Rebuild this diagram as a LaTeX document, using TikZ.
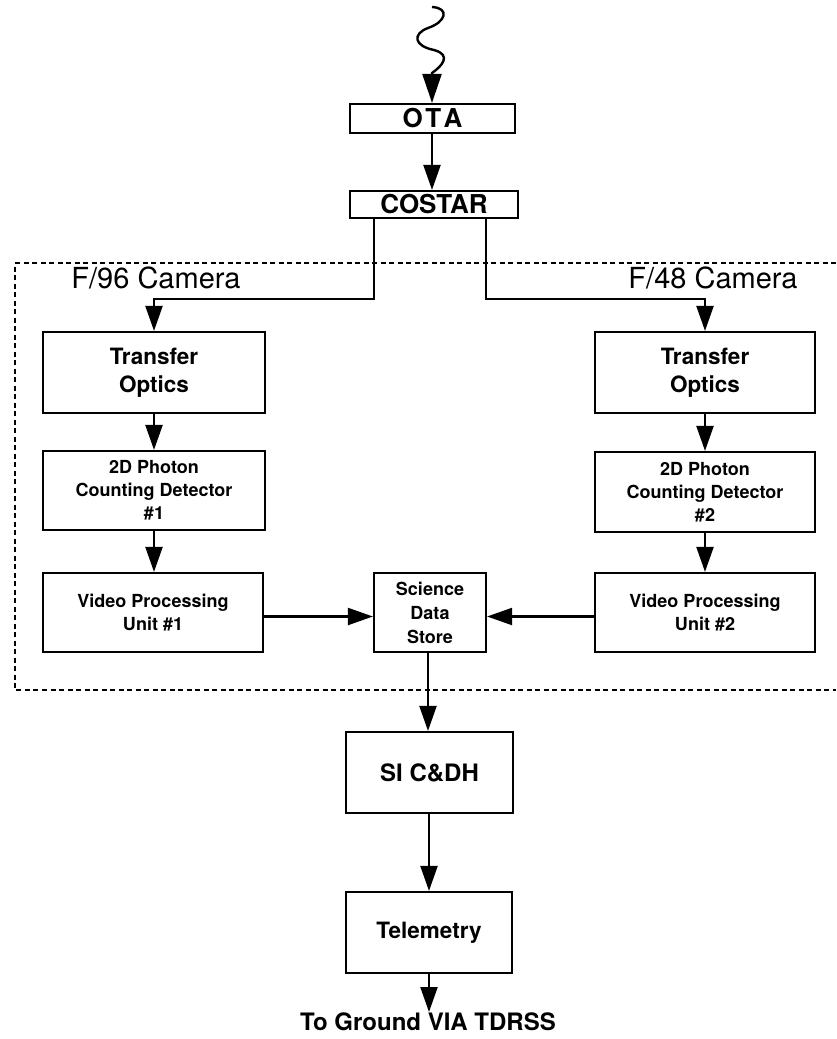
\documentclass[tikz,border=0pt]{standalone}
\usepackage{fontspec}
\setmainfont{TeX Gyre Heros}
\usetikzlibrary{arrows.meta,calc}
\begin{document}
\begin{tikzpicture}[x=1pt,y=-1pt,
  box/.style={draw, line width=2.2pt, inner sep=0pt, align=center},
  arr/.style={line width=2.2pt, -{Triangle[length=25pt,width=17pt]}},
  bigarr/.style={line width=2.4pt, -{Triangle[length=29pt,width=19pt]}},
  fbig/.style={font=\fontsize{26}{30}\bfseries\selectfont},
  fto/.style={font=\fontsize{22.5}{28}\bfseries\selectfont},
  fmid/.style={font=\fontsize{24}{28}\bfseries\selectfont},
  fsmall/.style={font=\fontsize{18}{23}\bfseries\selectfont},
  fsci/.style={font=\fontsize{18}{24}\bfseries\selectfont},
  fcam/.style={font=\fontsize{29}{32}\selectfont},
  boundary/.style={line width=2pt, dash pattern=on 5pt off 3.5pt}
]
\useasboundingbox (0,0) rectangle (836,1039);

% boundary of the FOC
\draw[boundary] (836,263) -- (15,263) -- (15,690) -- (836,690);

% nodes
\node[box, fbig, minimum width=165pt, minimum height=29pt] (ota) at (432.5,118.5) {O\kern2.5pt T\kern2.5pt A};
\node[box, fbig, minimum width=168pt, minimum height=27pt] (costar) at (434,204.5) {COSTAR};

\node[fcam, anchor=center] (cam1) at (156,278) {F/96 Camera};
\node[fcam, anchor=center] (cam2) at (713,278) {F/48 Camera};

\node[box, fto, minimum width=222pt, minimum height=81pt] (to1) at (154,372.5) {Transfer\\Optics};
\node[box, fsmall, minimum width=222pt, minimum height=79pt] (pd1) at (154,490.5) {2D Photon\\Counting Detector\\\#1};
\node[box, fsmall, minimum width=220pt, minimum height=79pt] (vpu1) at (153,612.5) {Video Processing\\Unit \#1};

\node[box, fto, minimum width=220pt, minimum height=81pt] (to2) at (705,372.5) {Transfer\\Optics};
\node[box, fsmall, minimum width=220pt, minimum height=80pt] (pd2) at (705,492) {2D Photon\\Counting Detector\\\#2};
\node[box, fsmall, minimum width=220pt, minimum height=79pt] (vpu2) at (705,612.5) {Video Processing\\Unit \#2};

\node[box, fsci, minimum width=112pt, minimum height=79pt] (sds) at (430,612.5) {Science\\Data\\Store};

\node[box, fmid, minimum width=167pt, minimum height=81pt] (sicdh) at (429.5,772.5) {SI C\&DH};
\node[box, fto, minimum width=166pt, minimum height=81pt] (tele) at (429,932.5) {Telemetry};

\node[fmid, inner sep=1pt, anchor=north] (ground) at (428,1012) {To Ground VIA TDRSS};

% incoming light
\coordinate (src) at (432,7);
\draw[bigarr] (src) .. controls (450,8) and (446,22) .. (428,28)
   .. controls (412,34) and (414,46) .. (434,50)
   .. controls (452,55) and (442,66) .. (432,73)
   -- (ota.north -| 432,0);

% connectors
\draw[arr] (ota.south -| 432,0) -- (costar.north -| 432,0);

\coordinate (j1) at (154,299);
\coordinate (j2) at (705,299);
\draw[arr] ([xshift=25pt]costar.south west) |- (j1) -- (to1.north);
\draw[arr] ([xshift=-33pt]costar.south east) |- (j2) -- (to2.north);

\draw[arr] (to1.south) -- (pd1.north);
\draw[arr] (pd1.south) -- (pd1.south |- vpu1.north);
\draw[arr] (to2.south) -- (pd2.north);
\draw[arr] (pd2.south) -- (vpu2.north);

\draw[arr] ([yshift=-4pt]vpu1.east) -- ([yshift=-4pt]sds.west);
\draw[arr] ([yshift=-4pt]vpu2.west) -- ([yshift=-4pt]sds.east);

\draw[arr] (sds.south -| 428,0) -- (sicdh.north -| 428,0);
\draw[arr] (sicdh.south -| 429,0) -- (tele.north -| 429,0);
\draw[arr] (tele.south -| 429,0) -- (ground.north -| 429,0);
\end{tikzpicture}
\end{document}
